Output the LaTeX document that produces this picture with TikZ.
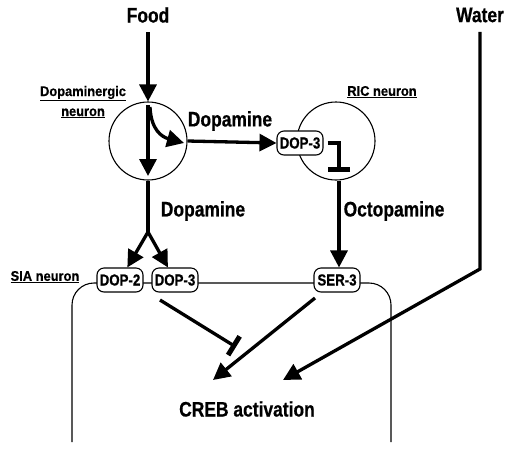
\documentclass[tikz,border=0pt]{standalone}
\usepackage{fontspec}
\setmainfont{Liberation Sans}[FakeStretch=0.83,FakeBold=0.6]
\newfontfamily\lblfont{Liberation Sans}[FakeStretch=0.92,FakeBold=0.5]
\usetikzlibrary{arrows.meta}

\begin{document}
\begin{tikzpicture}[x=1pt, y=-1pt,
    every node/.style = {font=\fontsize{21}{22}\selectfont\bfseries},
    lbl/.style = {font=\lblfont\fontsize{14}{20}\selectfont\bfseries, align=center},
    rcpt/.style = {draw, fill=white, rounded corners=7pt, line width=1.1pt,
        minimum width=46pt, minimum height=24pt, inner sep=1pt,
        font=\fontsize{16}{16}\selectfont\bfseries},
    cell/.style = {draw, circle, minimum size=78pt, inner sep=0pt, line width=1.1pt},
    act/.style = {line width=3.3pt, -{Triangle[length=17pt,width=17pt]}},
    inh/.style = {line width=3.3pt, -{Bar[width=22pt,line width=5pt]}}
     ]
  \useasboundingbox (0,0) rectangle (513,448);
  % inputs
  \node (food) at (148,15) {Food};
  \node (water) at (480,15) {Water};
  % neurons
  \node[cell] (dan) at (148,141) {};
  \node[cell] (ric) at (336,141) {};
  \node[rcpt] (dop3r) at (300,143) {DOP-3};
  \draw[line width=1.1pt, rounded corners=22pt] (72,442) -- (72,283) -- (391,283) -- (391,442);
  \node[rcpt] (dop2) at (120,280) {DOP-2};
  \node[rcpt] (dop3) at (175,280) {DOP-3};
  \node[rcpt] (ser3) at (337,280) {SER-3};
  \node[lbl] (danlbl) at (83,102) {\underline{Dopaminergic}\\\underline{neuron}};
  \node[lbl] (riclbl) at (382,92) {\underline{RIC neuron}};
  \node[lbl] (sialbl) at (45,277) {\underline{SIA neuron}};
  % transmitters
  \node (da1) at (230,121) {Dopamine};
  \node (da2) at (203,211) {Dopamine};
  \node (octo) at (394,211) {Octopamine};
  \node (creb) at (247,409) {CREB activation};
  % free ends
  \coordinate (dantop) at (148,105);
  \coordinate (danbot) at (148,176);
  \coordinate (curvein) at (150,107);
  \coordinate (curveout) at (184,143);
  \coordinate (split) at (148,232);
  \coordinate (ricbar) at (339,172);
  \coordinate (inhin) at (160,300);
  \coordinate (inhout) at (236,347);
  \coordinate (serin) at (315,298);
  \coordinate (serout) at (213,380);
  \coordinate (wturn) at (480,269);
  \coordinate (wout) at (283,380);
  % connectors
  \draw[act, shorten <=6pt] (food) -- (dan);
  \draw[act] (dantop) -- (danbot);
  \draw[act] (curvein) .. controls (151,130) and (162,137) .. (curveout);
  \draw[act] (dan.east) -- (dop3r.west);
  \draw[inh] ([xshift=4pt]dop3r.east) -| (ricbar);
  \draw[act] (ric.south -| ricbar) -- (ser3.north -| ricbar);
  \draw[line width=3.3pt] (dan) -- (split);
  \draw[act] (split) -- (dop2);
  \draw[act] (split) -- (dop3);
  \draw[inh] (inhin) -- (inhout);
  \draw[act] (serin) -- (serout);
  \draw[act, shorten <=6pt] (water) -- (wturn) -- (wout);
\end{tikzpicture}
\end{document}
